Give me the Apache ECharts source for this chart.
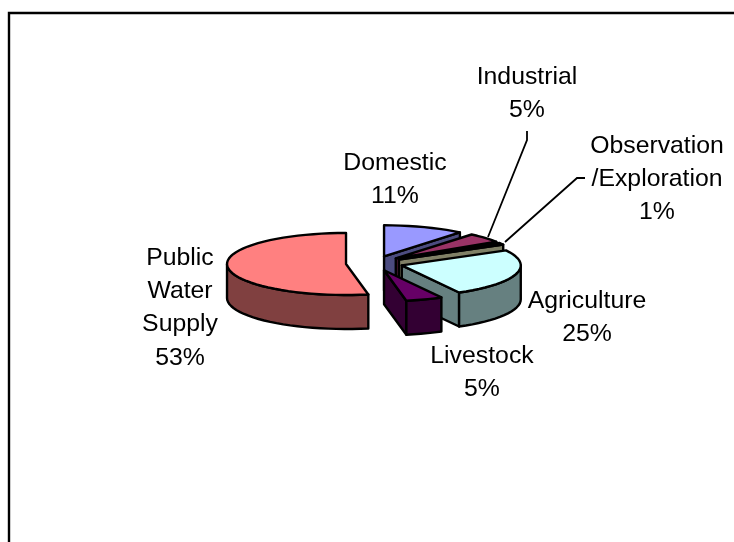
<!DOCTYPE html>
<html>
<head>
<meta charset="utf-8">
<style>html,body{margin:0;padding:0;background:#fff}#chart{width:734px;height:542px}</style>
<script src="https://cdn.jsdelivr.net/npm/echarts@6/dist/echarts.min.js"></script>
</head>
<body>
<div id="chart"></div>
<script>
// Water use by sector, slices listed clockwise from twelve o'clock.
const categories = ['Domestic', 'Industrial', 'Observation\n/Exploration', 'Agriculture', 'Livestock', 'Public\nWater\nSupply'];
const shares = [11, 5, 1, 25, 5, 53];
const topColors = ['#9999FF', '#993366', '#FFFFCC', '#CCFFFF', '#660066', '#FF8080'];
const sideColors = ['#4C4C80', '#4C1933', '#808066', '#668080', '#330033', '#804040'];
const labelCentres = [[395, 180], [527, 94], [657, 179], [587, 318], [482, 373], [180, 308]];

// Projection of the tilted disc.
const cx = 374.4, cy = 263.3, rx = 119, ry = 31, depth = 34, explode = 28.5;
const total = shares.reduce((a, b) => a + b, 0);
const point = (c, deg, r) => {
  const t = deg * Math.PI / 180;
  return [c[0] + r * rx * Math.sin(t), c[1] - r * ry * Math.cos(t)];
};
const drop = p => [p[0], p[1] + depth];
const edge = { stroke: '#000', lineWidth: 2.4, lineJoin: 'round' };

function arc(c, from, to) {
  const pts = [];
  const n = Math.max(2, Math.ceil((to - from) / 4));
  for (let i = 0; i <= n; i++) pts.push(point(c, from + (to - from) * i / n, 1));
  return pts;
}

function renderSlice(params, api) {
  const i = params.dataIndex;
  const share = api.value(1);
  let start = 0;
  for (let k = 0; k < i; k++) start += shares[k];
  const a0 = start / total * 360, a1 = a0 + share / total * 360;
  const mid = (a0 + a1) / 2;
  const t = mid * Math.PI / 180;
  const c = [cx + explode * Math.sin(t), cy - explode * (ry / rx) * Math.cos(t)];
  const children = [];
  const poly = (points, fill) => children.push({
    type: 'polygon', shape: { points }, style: Object.assign({ fill }, edge)
  });
  // Cut face on the trailing side when it turns towards the viewer.
  if (a1 < 180) {
    const e = point(c, a1, 1);
    poly([c, e, drop(e), drop(c)], sideColors[i]);
  }
  // Outer rim: only the front half of the circle shows.
  const f0 = Math.max(a0, 90), f1 = Math.min(a1, 270);
  if (f1 > f0) {
    const rim = arc(c, f0, f1);
    poly(rim.concat(rim.map(drop).reverse()), sideColors[i]);
  }
  poly([c].concat(arc(c, a0, a1)), topColors[i]);
  return { type: 'group', children };
}

function renderLabel(params, api) {
  const i = params.dataIndex;
  const pct = Math.round(api.value(1) / total * 100) + '%';
  return {
    type: 'text',
    style: {
      text: categories[i] + '\n' + pct,
      x: labelCentres[i][0], y: labelCentres[i][1],
      align: 'center', verticalAlign: 'middle',
      font: '24.8px "Liberation Sans", Arial, sans-serif',
      lineHeight: 33.3, fill: '#000'
    }
  };
}

const rows = categories.map((name, i) => [name, shares[i]]);
const line = (points, width) => ({
  type: 'polyline', shape: { points }, silent: true,
  style: { stroke: '#000', lineWidth: width, fill: null }
});

echarts.init(document.getElementById('chart'), null, { renderer: 'canvas' }).setOption({
  animation: false,
  backgroundColor: '#fff',
  graphic: [
    line([[9, 542], [9, 13], [734, 13]], 2.4),
    line([[527, 131], [527, 140], [488, 237]], 1.8),
    line([[585, 178], [577, 178], [505, 242]], 1.8)
  ],
  series: [
    { type: 'custom', coordinateSystem: 'none', data: rows, renderItem: renderSlice, silent: true, z: 2 },
    { type: 'custom', coordinateSystem: 'none', data: rows, renderItem: renderLabel, silent: true, z: 3 }
  ]
});
</script>
</body>
</html>
